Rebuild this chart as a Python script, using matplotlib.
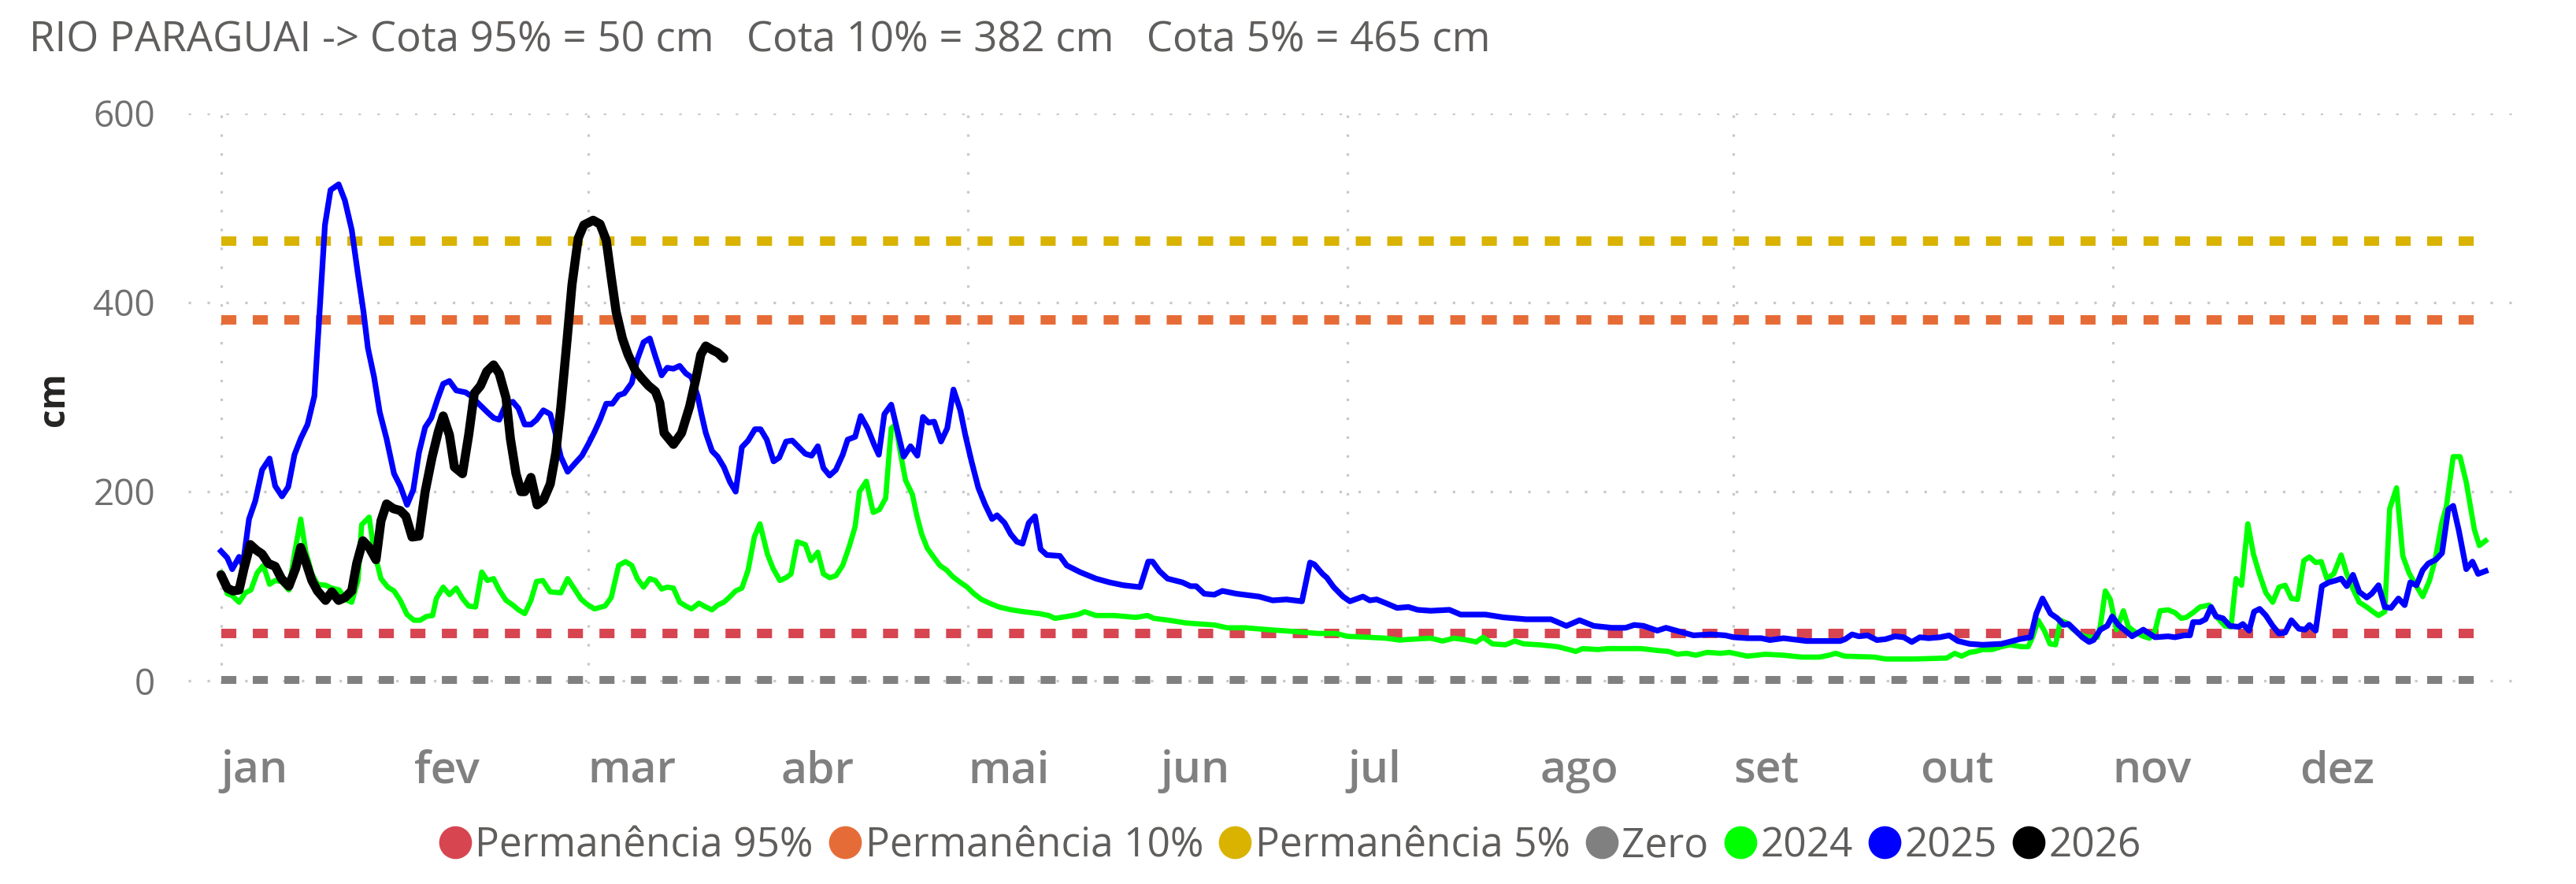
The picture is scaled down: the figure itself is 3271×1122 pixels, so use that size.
import matplotlib
matplotlib.use('Agg')
import matplotlib.pyplot as plt
from matplotlib.lines import Line2D

# dia do ano (1..365) e cota em cm
dias_2024 = [1, 2, 2.8, 3.9, 4.9, 5.8, 6.8, 7.8, 8.8, 9.7, 10.7, 11.9, 12.8, 13.8, 14.6, 15.6, 16.5, 17.8, 18.8, 20,
             21, 22, 23, 23.6, 24.8, 25.6, 26.7, 27.8, 28.8, 29.8, 30.9, 32, 33, 34, 35, 35.6, 36.7, 37.7, 38.8, 39.8,
             40.8, 41.9, 42.9, 43.8, 44.8, 45.7, 46.8, 47.9, 48.8, 49.8, 50.8, 51.7, 52.7, 53.9, 55.6, 56.7, 57.8, 58.9,
             59.8, 61, 62.7, 63.7, 64.9, 66, 67, 67.9, 68.9, 69.9, 70.8, 71.8, 72.7, 73.7, 74.7, 75.7, 76.6, 77.8, 78.9,
             79.9, 80.8, 81.8, 82.8, 83.7, 84.7, 85.7, 86.7, 87.6, 88.8, 89.7, 90.8, 91.8, 92.6, 93.6, 94.9, 95.8, 96.9,
             97.8, 98.8, 99.8, 100.9, 102, 102.9, 103.6, 104.7, 105.8, 106.8, 107.8, 108.3, 108.7, 109.4, 110.2, 111,
             112.1, 112.8, 113.6, 114.5, 115.6, 116.5, 117.6, 118.6, 119.8, 120.9, 122, 123.2, 124.5, 126, 128, 130,
             132.5, 134, 135, 137, 138.7, 139.8, 141.6, 144.5, 148, 149.9, 150.9, 153.3, 156.2, 158.4, 160.6, 162.7,
             165.6, 169.3, 173.6, 177.3, 180.2, 182, 185.3, 188.2, 190.4, 192.6, 195.4, 197.3, 199.1, 201.3, 202.7,
             203.8, 205.3, 207.4, 208.9, 210.3, 212.9, 215.8, 217.6, 218.7, 219.8, 222.3, 223.8, 229.2, 231.8, 233.6,
             235, 236.5, 238, 239.8, 242, 243.4, 246.3, 249.2, 252.1, 255, 257.9, 259.4, 260.5, 261.9, 266.7, 268.5,
             273.2, 278.3, 279.6, 280.7, 282, 283, 284.1, 285.6, 287.1, 288.5, 290.3, 291.4, 292.1, 293, 294, 294.9,
             295.8, 296.6, 297.6, 298.5, 299.5, 300.5, 301.4, 302.5, 303, 303.8, 304.6, 305.6, 306.7, 307.5, 308.7,
             309.9, 310.9, 311.8, 312.6, 313.9, 315, 316, 316.8, 317.9, 319, 320.5, 321.4, 322.3, 323, 324, 324.8,
             325.7, 326.7, 327.6, 328.5, 329.6, 330.7, 331.7, 332.7, 333.7, 334.7, 335.7, 336.6, 337.6, 338.5, 339.4,
             340.5, 341.7, 342.6, 343.6, 344.6, 345.8, 346.8, 347.7, 348.7, 349.5, 350.6, 351.6, 352.6, 353.8, 354.8,
             355.9, 356.8, 357.9, 358.6, 359.7, 360.8, 361.8, 363.1, 363.9, 364.9]
cota_2024 = [114, 92, 90, 83, 93, 96, 114, 122, 102, 106, 105, 96, 134, 171, 137, 113, 102, 101, 98, 96,
             86, 83, 106, 165, 173, 137, 108, 99, 95, 85, 70, 64, 64, 68, 69, 87, 99, 91, 98, 87,
             79, 78, 115, 106, 108, 96, 85, 80, 75, 71, 85, 105, 106, 94, 93, 108, 97, 86,
             81, 76, 79, 88, 122, 126, 122, 108, 99, 108, 106, 97, 99, 98, 83, 79, 76, 82, 78,
             75, 80, 83, 89, 95, 98, 117, 152, 166, 134, 119, 106, 109, 113, 147, 144, 127, 136,
             113, 109, 111, 122, 143, 163, 200, 211, 178, 181, 193, 235, 267, 271, 240, 212,
             197, 175, 155, 140, 130, 122, 117, 110, 104, 99, 92, 86, 82, 78, 75, 73,
             71, 69, 66, 68, 70, 73, 69, 69, 67, 69, 66, 64, 61, 60, 59, 56,
             56, 54, 52, 50, 50, 47, 46, 45, 43, 44, 45, 42, 45, 43, 41,
             46, 39, 38, 42, 39, 38, 36, 33, 31, 34, 33, 34, 34, 32, 31,
             28, 29, 27, 30, 29, 30, 26, 28, 27, 25, 25, 27, 29, 26, 25, 23,
             23, 24, 29, 26, 30, 31, 33, 33, 36, 38, 36, 36, 46, 64, 53, 39,
             38, 64, 61, 55, 50, 47, 46, 46, 58, 95, 86, 54, 74, 57, 51,
             47, 45, 53, 74, 75, 72, 66, 67, 72, 78, 80, 70, 63, 58, 57, 108,
             101, 166, 134, 114, 93, 83, 99, 101, 87, 86, 127, 131, 125, 126, 108,
             113, 133, 113, 97, 83, 78, 73, 69, 73, 182, 204, 132, 114, 100, 89,
             106, 128, 168, 184, 237, 237, 210, 160, 143, 148]

dias_2025 = [1, 2, 2.8, 3.9, 4.5, 5.5, 6.5, 7.6, 8.8, 9.7, 10.8, 11.8, 12.8, 13.8, 14.9, 16, 16.8, 17.7, 18.6, 19.9,
             20.9, 22, 23, 23.9, 24.6, 25.6, 26.5, 27.6, 28.8, 29.8, 30.9, 31.9, 32.8, 33.8, 34.8, 35.8, 36.7, 37.7,
             38.8, 40.3, 41.2, 42.4, 43.8, 44.8, 45.7, 46.8, 47.9, 48.8, 49.8, 50.8, 51.7, 52.8, 53.9, 54.7, 55.6,
             56.7, 57.9, 59, 60, 61, 61.9, 62.9, 63.9, 64.9, 65.8, 67, 67.9, 68.9, 69.9, 70.8, 71.8, 72.7, 73.7, 74.7,
             75.7, 76.6, 77.6, 78.2, 78.9, 79.9, 80.8, 81.8, 82.8, 83.7, 84.7, 85.7, 86.8, 87.7, 88.7, 89.8, 90.7,
             91.8, 92.8, 93.7, 94.9, 95.9, 96.9, 97.8, 98.8, 99.8, 100.9, 101.7, 102.9, 103.8, 104.9, 106, 106.7,
             107.6, 108.7, 109.6, 110.7, 111.8, 112.9, 113.8, 114.7, 115.6, 116.7, 117.7, 118.7, 119.8, 120.6, 121.6,
             122.7, 123.8, 124.9, 125.7, 126.9, 127.9, 128.9, 129.8, 130.8, 131.8, 132.7, 133.7, 135.8, 136.9, 139,
             141.6, 143.8, 146, 148.7, 150, 150.7, 151.8, 153.1, 155.5, 156.8, 157.7, 159, 160.6, 161.9, 164.2, 167.8,
             170, 172.2, 174.7, 176, 176.7, 178, 178.7, 179.8, 181.3, 182.4, 184.5, 185.6, 186.7, 188.2, 190, 191.8,
             193.3, 195.4, 198.4, 200.2, 204.2, 207.1, 210.7, 214.7, 217.2, 219.3, 221.6, 224.5, 226.7, 228.1, 229.6,
             231.8, 233.2, 235.4, 237.6, 240.5, 242.7, 244.1, 246.3, 248.5, 249.9, 252.1, 255.8, 258.7, 261.2, 262,
             263.1, 264.2, 265.6, 267.1, 268.5, 270, 271.4, 272.7, 274, 275.4, 277.2, 278.7, 280.1, 282, 284.1, 287.1,
             288.9, 290, 291.8, 292.7, 293.7, 295, 296.1, 297.1, 297.9, 299, 300.1, 301.2, 301.9, 303, 304.1, 304.9,
             305.9, 307, 308.1, 309.9, 311.8, 313.9, 315, 316.5, 317.4, 317.9, 319, 319.9, 320.8, 321.6, 322.7, 323.8,
             325.2, 325.9, 326.9, 327.7, 328.6, 329.6, 330.7, 331.7, 332.7, 333.7, 334.9, 335.9, 336.6, 337.6, 338.6,
             339.7, 340.8, 341.7, 342.6, 343.6, 344.6, 345.8, 346.6, 347.7, 348.7, 349.7, 350.9, 351.9, 352.8, 353.8,
             354.8, 355.7, 356.9, 357.9, 358.9, 359.7, 360.6, 361.8, 362.8, 363.7, 364.9]
cota_2025 = [137, 130, 118, 131, 122, 171, 190, 223, 235, 206, 195, 205, 239, 256, 271, 301, 386, 482, 519, 525,
             508, 477, 430, 390, 352, 321, 284, 256, 219, 206, 186, 202, 241, 268, 278, 298, 314, 317,
             307, 305, 301, 293, 284, 278, 276, 293, 295, 288, 271, 271, 276, 286, 282, 263, 237,
             221, 230, 238, 250, 263, 276, 293, 293, 302, 304, 315, 340, 358, 362, 343, 323, 331, 330, 333,
             325, 321, 301, 282, 262, 243, 237, 226, 210, 200, 247, 254, 266, 266, 255, 232, 236,
             253, 254, 248, 240, 238, 248, 225, 217, 223, 239, 255, 258, 280, 267, 249, 239,
             282, 292, 267, 237, 248, 238, 279, 273, 274, 253, 267, 308, 286, 260, 232,
             204, 186, 171, 175, 167, 155, 147, 145, 167, 174, 139, 133, 132, 122, 115,
             108, 104, 101, 99, 126, 126, 116, 108, 104, 100, 100, 92, 91, 95, 92, 89,
             85, 86, 84, 125, 123, 113, 109, 99, 89, 84, 89, 85, 86, 82, 77, 78,
             75, 74, 75, 70, 70, 67, 65, 65, 58, 64, 58, 56, 56, 59, 58,
             53, 56, 52, 48, 49, 48, 46, 45, 45, 43, 45, 42, 42, 42, 44,
             49, 47, 48, 43, 44, 47, 46, 41, 46, 45, 46, 48, 42, 39, 38, 39,
             42, 44, 46, 71, 87, 71, 66, 59, 60, 53, 46, 41, 43, 54, 58, 68,
             59, 53, 47, 54, 46, 47, 46, 48, 48, 62, 62, 65, 78, 68, 66, 58,
             57, 60, 53, 73, 76, 69, 58, 50, 51, 64, 55, 54, 59, 53, 100,
             104, 106, 108, 100, 112, 94, 88, 92, 101, 78, 77, 87, 80, 104, 101,
             117, 124, 128, 135, 181, 185, 159, 118, 126, 113, 116]

dias_2026 = [1, 2, 2.9, 3.9, 4.7, 5.7, 6.7, 7.6, 8.6, 9.7, 10.7, 11.9, 13, 13.8, 14.7, 15.6, 16.5, 17.8, 18.8, 19.9,
             20.9, 22, 22.8, 23.8, 24.8, 25.9, 26.7, 27.6, 28.7, 29.8, 30.7, 31.7, 32.8, 33.8, 34.9, 35.9, 36.7, 37.7,
             38.5, 39.8, 40.8, 41.7, 42.7, 43.7, 44.8, 45.7, 46.8, 47.5, 48.4, 49.2, 49.8, 50.8, 51.8, 52.8, 53.9,
             54.8, 55.6, 56.6, 57.4, 58.4, 59.3, 60.8, 61.9, 62.9, 63.7, 64.5, 65.5, 66.4, 67.6, 68.6, 69.7, 70.8,
             71.5, 72.2, 73.7, 75, 76.3, 77.3, 78.1, 78.9, 79.9, 80.8, 81.8]
cota_2026 = [112, 98, 95, 96, 119, 144, 138, 134, 124, 121, 108, 100, 119, 141, 124, 106, 95, 85, 94, 85,
             88, 95, 124, 148, 141, 128, 169, 187, 182, 180, 174, 152, 153, 200, 236, 263, 280, 260,
             226, 219, 260, 304, 312, 327, 334, 325, 299, 256, 219, 200, 200, 215, 186, 191, 208,
             241, 289, 360, 419, 468, 482, 487, 483, 466, 427, 390, 362, 345, 328, 320, 312, 306,
             294, 262, 250, 262, 290, 319, 345, 354, 350, 347, 341]

# cotas de referencia (cm)
ref_nomes = ['Permanência 95%', 'Permanência 10%', 'Permanência 5%', 'Zero']
ref_cotas = [50, 382, 465, 0]
ref_cores = ['#D64550', '#E66C37', '#D9B300', '#808080']

meses = ['jan', 'fev', 'mar', 'abr', 'mai', 'jun', 'jul', 'ago', 'set', 'out', 'nov', 'dez']
inicio_mes = [1, 32, 60, 91, 121, 152, 182, 213, 244, 274, 305, 335]
ultimo_dia = 365

titulo = 'RIO PARAGUAI -> Cota 95% = 50 cm   Cota 10% = 382 cm   Cota 5% = 465 cm'

plt.rcParams['font.family'] = ['Open Sans', 'DejaVu Sans']

fig = plt.figure(figsize=(32.71, 11.22), dpi=100)
ax = fig.add_axes([0.073, 0.2264, 0.903, 0.6453])

# grade pontilhada
for yv in [0, 200, 400, 600]:
    ax.axhline(yv, color='#c8c8c8', lw=2.3, ls=(0, (1, 6.5)), zorder=0)
for d in inicio_mes[::2]:
    ax.axvline(d, color='#c8c8c8', lw=2.3, ls=(0, (1, 6.5)), zorder=0)

# linhas de referencia
for nome, cota, cor in zip(ref_nomes, ref_cotas, ref_cores):
    ax.plot([1, ultimo_dia], [cota, cota], color=cor, lw=8.6,
            ls=(0, (1.6, 1.75)), dash_capstyle='butt', zorder=2)

ax.plot(dias_2024, cota_2024, color='#00FF00', lw=4.8, solid_joinstyle='round', zorder=3)
ax.plot(dias_2025, cota_2025, color='#0000FF', lw=5.2, solid_joinstyle='round', zorder=4)
ax.plot(dias_2026, cota_2026, color='#000000', lw=8.3, solid_joinstyle='round',
        solid_capstyle='round', zorder=5)

ax.set_xlim(-4.3, 369.5)
ax.set_ylim(-3.3, 600)
for s in ax.spines.values():
    s.set_visible(False)

ax.set_yticks([0, 200, 400, 600])
ax.set_yticklabels(['0', '200', '400', '600'])
ax.tick_params(axis='y', length=0, pad=30, labelsize=33, labelcolor='#707070')
ax.set_xticks(inicio_mes)
ax.set_xticklabels(meses, ha='left', fontweight='semibold')
ax.tick_params(axis='x', length=0, pad=60, labelsize=41, labelcolor='#808080')

fig.text(0.0113, 0.9537, titulo, fontsize=38, color='#605E5C', ha='left', va='center')
fig.text(0.021, 0.548, 'cm', fontsize=33, color='#252423', fontweight='bold',
         rotation=90, ha='center', va='center')

handles = []
labels = []
for nome, cor in zip(ref_nomes, ref_cores):
    handles.append(Line2D([], [], ls='none', marker='o', markersize=29, color=cor))
    labels.append(nome)
for nome, cor in zip(['2024', '2025', '2026'], ['#00FF00', '#0000FF', '#000000']):
    handles.append(Line2D([], [], ls='none', marker='o', markersize=29, color=cor))
    labels.append(nome)
fig.legend(handles, labels, loc='center', bbox_to_anchor=(0.5, 0.043), ncol=7, frameon=False,
           fontsize=37, labelcolor='#605E5C', handletextpad=0.0, columnspacing=0.28,
           handlelength=1.0, borderaxespad=0)

fig.savefig('out.png', dpi=100)
